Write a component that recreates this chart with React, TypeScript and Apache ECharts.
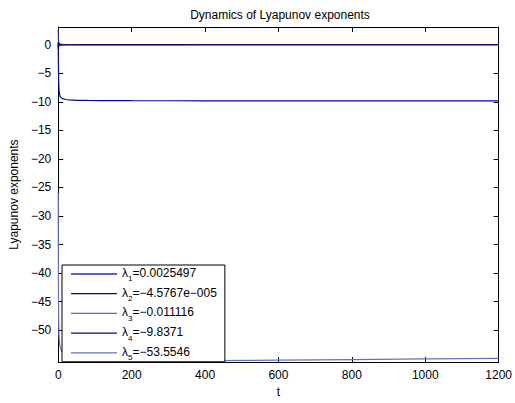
import React, { useEffect, useRef } from "react";
import * as echarts from "echarts";

const t = [0, 0.3, 0.6, 1, 1.5, 2, 3, 5, 8, 12, 20, 30, 50, 80, 120, 200, 300, 400, 600, 800, 1000, 1200];
const lam1 = [2.6, 1.4, 0.8, 0.5, 0.35, 0.25, 0.18, 0.12, 0.08, 0.05, 0.03, 0.02, 0.012, 0.008, 0.006, 0.005, 0.004, 0.0035, 0.003, 0.0028, 0.0026, 0.0025];
const lam2 = [0.4, -0.8, 0.5, -0.4, 0.3, -0.2, 0.15, -0.1, 0.05, -0.03, 0.02, -0.01, 0.005, -0.003, 0.002, -0.001, 0.0005, -0.0003, 0.0002, -0.0001, 0, -0.00005];
const lam3 = [-0.5, 0.6, -0.7, 0.3, -0.4, 0.2, -0.2, 0.1, -0.08, -0.05, -0.04, -0.03, -0.025, -0.02, -0.018, -0.016, -0.014, -0.013, -0.012, -0.0115, -0.0112, -0.0111];
const lam4 = [0, -2.5, -4.5, -6, -7.1, -7.8, -8.5, -9.0, -9.3, -9.45, -9.6, -9.68, -9.74, -9.77, -9.79, -9.81, -9.82, -9.83, -9.835, -9.837, -9.837, -9.837];
const lam5 = [-26, -38, -44, -47.5, -49.5, -50.8, -51.9, -52.9, -53.5, -54.0, -54.5, -54.8, -55.1, -55.25, -55.35, -55.4, -55.4, -55.35, -55.25, -55.15, -55.05, -54.95];

const names = ["λ1", "λ2", "λ3", "λ4", "λ5"];
const legendValues = ["0.0025497", "−4.5767e−005", "−0.011116", "−9.8371", "−53.5546"];
const colors = ["#2a2ab8", "#0a0a66", "#5a68c4", "#0008a0", "#6270c8"];
const seriesZ = [3, 5, 4, 2, 2];
const seriesValues = [lam1, lam2, lam3, lam4, lam5];

const xTicks = [0, 200, 400, 600, 800, 1000, 1200];
const yTicks = [0, -5, -10, -15, -20, -25, -30, -35, -40, -45, -50];

const FONT = "Liberation Sans, Arial, Helvetica, sans-serif";
const fmtNum = (v: number) => String(v).replace("-", "−");

export default function App() {
  const ref = useRef<HTMLDivElement>(null);
  useEffect(() => {
    if (!ref.current) return;
    const chart = echarts.init(ref.current, undefined, { renderer: "svg" });
    const axisLine = { show: true, onZero: false, lineStyle: { color: "#000", width: 1 } };
    const tick = { show: true, inside: true, length: 5, lineStyle: { color: "#000" } };
    chart.setOption({
      animation: false,
      backgroundColor: "#fff",
      title: {
        text: "Dynamics of Lyapunov exponents",
        left: 275,
        textAlign: "center",
        top: 4,
        textStyle: { fontFamily: FONT, fontSize: 12, fontWeight: "normal", color: "#000" },
      },
      grid: { left: 57, right: 15, top: 27, bottom: 34 },
      xAxis: [
        {
          type: "value",
          min: 0,
          max: 1200,
          interval: 200,
          position: "bottom",
          name: "t",
          nameLocation: "middle",
          nameGap: 17,
          nameTextStyle: { fontFamily: FONT, fontSize: 12, color: "#000" },
          axisLabel: { fontFamily: FONT, fontSize: 12, color: "#000", margin: 7, customValues: xTicks, formatter: (v: number) => fmtNum(v) },
          axisLine,
          axisTick: { ...tick, customValues: xTicks },
          splitLine: { show: false },
        },
        {
          type: "value",
          min: 0,
          max: 1200,
          interval: 200,
          position: "top",
          axisLabel: { show: false },
          axisLine,
          axisTick: { ...tick, customValues: xTicks },
          splitLine: { show: false },
        },
      ],
      yAxis: [
        {
          type: "value",
          min: -55.6,
          max: 3.1,
          position: "left",
          name: "Lyapunov exponents",
          nameLocation: "middle",
          nameGap: 31,
          nameTextStyle: { fontFamily: FONT, fontSize: 12, color: "#000" },
          axisLabel: { fontFamily: FONT, fontSize: 12, color: "#000", margin: 7, customValues: yTicks, formatter: (v: number) => fmtNum(v) },
          axisLine,
          axisTick: { ...tick, customValues: yTicks },
          splitLine: { show: false },
        },
        {
          type: "value",
          min: -55.6,
          max: 3.1,
          position: "right",
          axisLabel: { show: false },
          axisLine,
          axisTick: { ...tick, customValues: yTicks },
          splitLine: { show: false },
        },
      ],
      legend: {
        orient: "vertical",
        left: 62,
        top: 265,
        data: names,
        icon: "rect",
        itemWidth: 46,
        itemHeight: 1.3,
        itemGap: 1.7,
        padding: [0, 8, 0, 9],
        borderColor: "#000",
        borderWidth: 1,
        backgroundColor: "#fff",
        formatter: (name: string) => {
          const i = names.indexOf(name);
          return "{n|λ}{s|" + (i + 1) + "}{n|=" + legendValues[i] + "}";
        },
        textStyle: {
          fontFamily: FONT,
          fontSize: 12,
          color: "#000",
          rich: {
            n: { fontFamily: FONT, fontSize: 12, color: "#000", lineHeight: 14, padding: [1, 0, 3, 0] },
            s: { fontFamily: FONT, fontSize: 8, color: "#000", lineHeight: 8, padding: [10, 0, 0, 0] },
          },
        },
      },
      series: seriesValues.map((vals, i) => ({
        name: names[i],
        type: "line",
        xAxisIndex: 0,
        yAxisIndex: 0,
        symbol: "none",
        color: colors[i],
        lineStyle: { width: 1.2, color: colors[i] },
        data: t.map((tv, k) => [tv, vals[k]]),
        z: seriesZ[i],
      })),
    });
    return () => chart.dispose();
  }, []);
  return <div ref={ref} style={{ width: 515, height: 403, position: "absolute", left: 0, top: 0 }} />;
}
